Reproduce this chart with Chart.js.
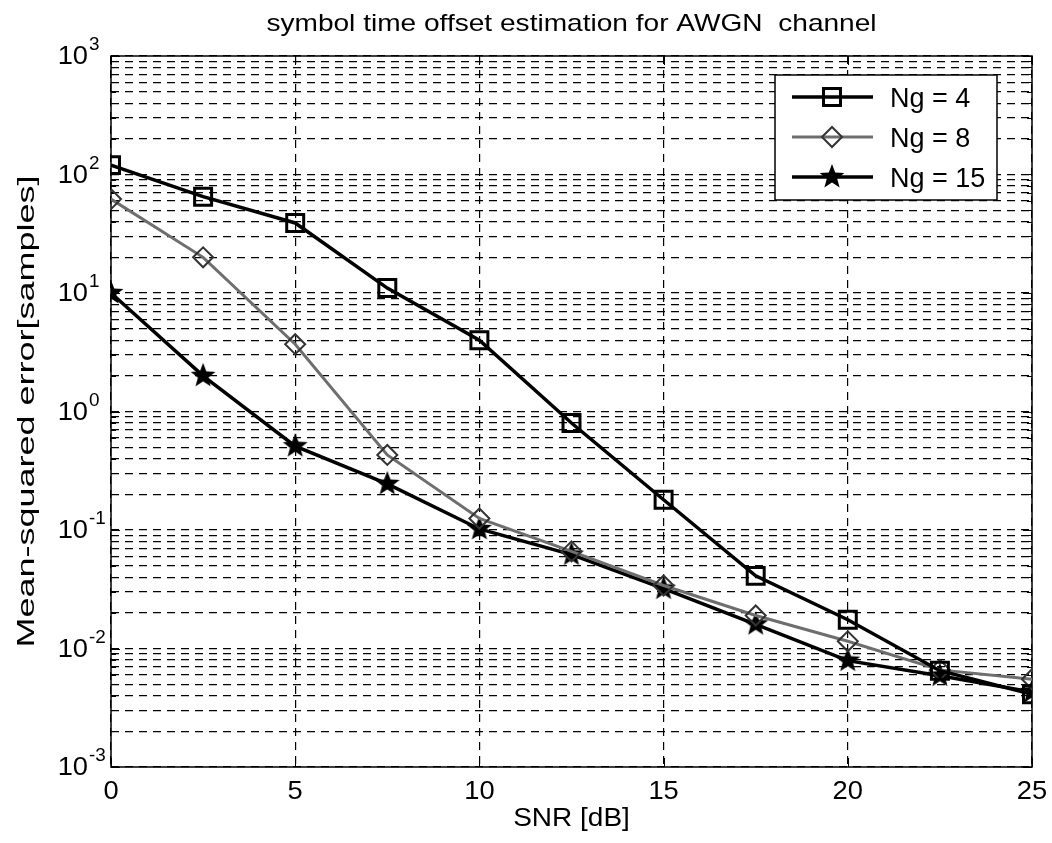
<!DOCTYPE html>
<html>
<head>
<meta charset="utf-8">
<script src="https://cdn.jsdelivr.net/npm/chart.js@4.4.1/dist/chart.umd.min.js"></script>
<style>
  body { margin: 0; background: #fff; }
  #wrap { width: 1052px; height: 843px; }
</style>
</head>
<body>
<div id="wrap"><canvas id="myChart" width="1052" height="843"></canvas></div>
<script>
// data
var snrValues = [0, 2.5, 5, 7.5, 10, 12.5, 15, 17.5, 20, 22.5, 25];
var mseNg4 = [120, 65, 39, 11, 4.0, 0.8, 0.18, 0.041, 0.0175, 0.0065, 0.0041];
var mseNg8 = [62, 20, 3.7, 0.43, 0.125, 0.066, 0.034, 0.019, 0.0115, 0.0066, 0.0055];
var mseNg15 = [10, 2.0, 0.51, 0.245, 0.102, 0.062, 0.032, 0.016, 0.0079, 0.0059, 0.0043];
var seriesNames = ["Ng = 4", "Ng = 8", "Ng = 15"];

// axis ticks
var xTicks = [0, 5, 10, 15, 20, 25];
var yExponents = [-3, -2, -1, 0, 1, 2, 3];
var yMinorSteps = [2, 3, 4, 5, 6, 7, 8, 9];

var FONT = "'Liberation Sans', Arial, sans-serif";

// filled 5 point star as point image
function makeStar(r) {
  var c = document.createElement("canvas");
  c.width = c.height = r * 2 + 4;
  var g = c.getContext("2d");
  var cx = r + 2, cy = r + 2;
  g.beginPath();
  for (var i = 0; i < 10; i++) {
    var rr = i % 2 == 0 ? r : r * 0.42;
    var a = -Math.PI / 2 + i * Math.PI / 5;
    var px = cx + rr * Math.cos(a), py = cy + rr * Math.sin(a);
    if (i == 0) g.moveTo(px, py); else g.lineTo(px, py);
  }
  g.closePath();
  g.fillStyle = "#000";
  g.fill();
  return c;
}
var starImg = makeStar(13);

var yGrid = [];
var yMajor = [];
yExponents.forEach(function (e) {
  yGrid.push(Math.pow(10, e));
  yMajor.push(Math.pow(10, e));
  if (e < 3) yMinorSteps.forEach(function (m) { yGrid.push(m * Math.pow(10, e)); });
});

function txt(ctx, s, x, y, font, align, sx) {
  ctx.save();
  ctx.font = font;
  ctx.textAlign = align || "left";
  ctx.textBaseline = "alphabetic";
  ctx.translate(x, y);
  ctx.scale(sx || 1, 1);
  ctx.fillText(s, 0, 0);
  ctx.restore();
}

var matlabLook = {
  id: "matlabLook",
  beforeDatasetsDraw: function (chart) {
    var ctx = chart.ctx, a = chart.chartArea;
    var xs = chart.scales.x, ys = chart.scales.y;
    ctx.save();
    ctx.strokeStyle = "#000";
    ctx.lineWidth = 1;
    // small inside ticks
    yGrid.forEach(function (v) {
      var py = Math.round(ys.getPixelForValue(v)) + 0.5;
      var len = yMajor.indexOf(v) >= 0 ? 9 : 5;
      ctx.beginPath();
      ctx.moveTo(a.left, py); ctx.lineTo(a.left + len, py);
      ctx.moveTo(a.right, py); ctx.lineTo(a.right - len, py);
      ctx.stroke();
    });
    xTicks.forEach(function (v) {
      var px = Math.round(xs.getPixelForValue(v)) + 0.5;
      ctx.beginPath();
      ctx.moveTo(px, a.bottom); ctx.lineTo(px, a.bottom - 9);
      ctx.moveTo(px, a.top); ctx.lineTo(px, a.top + 9);
      ctx.stroke();
    });
    ctx.lineWidth = 1.5;
    ctx.strokeRect(a.left, a.top, a.right - a.left, a.bottom - a.top);
    ctx.restore();
  },
  afterDraw: function (chart) {
    var ctx = chart.ctx, a = chart.chartArea;
    var xs = chart.scales.x, ys = chart.scales.y;
    ctx.save();
    ctx.fillStyle = "#000";
    // title and axis titles
    txt(ctx, "symbol time offset estimation for AWGN  channel", (a.left + a.right) / 2, 31, "24px " + FONT, "center", 1.17);
    txt(ctx, "SNR [dB]", (a.left + a.right) / 2, 826, "25px " + FONT, "center", 1.12);
    ctx.save();
    ctx.translate(34, (a.top + a.bottom) / 2);
    ctx.rotate(-Math.PI / 2);
    txt(ctx, "Mean-squared error[samples]", 0, 0, "24px " + FONT, "center", 1.5);
    ctx.restore();
    // tick labels
    xTicks.forEach(function (v) {
      txt(ctx, String(v), xs.getPixelForValue(v), 799, "26px " + FONT, "center", 1.05);
    });
    yExponents.forEach(function (e) {
      var py = ys.getPixelForValue(Math.pow(10, e));
      txt(ctx, "10", 88, py + 8, "26px " + FONT, "right", 1.05);
      txt(ctx, String(e), 89, py - 6, "18px " + FONT, "left", 1.05);
    });
    // legend box
    var lx = 775, ly = 75, lw = 222, lh = 125;
    ctx.fillStyle = "#fff";
    ctx.fillRect(lx, ly, lw, lh);
    ctx.strokeStyle = "#000";
    ctx.lineWidth = 1.5;
    ctx.strokeRect(lx, ly, lw, lh);
    chart.data.datasets.forEach(function (ds, i) {
      var ry = 97 + i * 40;
      ctx.strokeStyle = ds.borderColor;
      ctx.lineWidth = ds.borderWidth;
      ctx.beginPath();
      ctx.moveTo(792, ry); ctx.lineTo(873, ry);
      ctx.stroke();
      ctx.strokeStyle = ds.pointBorderColor;
      ctx.fillStyle = ds.pointBackgroundColor;
      ctx.lineWidth = ds.pointBorderWidth;
      Chart.helpers.drawPoint(ctx, { pointStyle: ds.pointStyle, radius: ds.pointRadius, borderWidth: ds.pointBorderWidth, rotation: 0 }, 832, ry);
      ctx.fillStyle = "#000";
      txt(ctx, ds.label, 890, ry + 10, "27px " + FONT, "left", 1);
    });
    ctx.restore();
  }
};

function pts(ys) {
  return snrValues.map(function (x, i) { return { x: x, y: ys[i] }; });
}

new Chart("myChart", {
  type: "line",
  data: {
    datasets: [{
      label: seriesNames[0],
      data: pts(mseNg4),
      borderColor: "#000",
      borderWidth: 3.5,
      pointStyle: "rect",
      pointRadius: 12,
      pointBorderWidth: 3,
      pointBorderColor: "#000",
      pointBackgroundColor: "rgba(255,255,255,0)"
    }, {
      label: seriesNames[1],
      data: pts(mseNg8),
      borderColor: "#6e6e6e",
      borderWidth: 3,
      pointStyle: "rectRot",
      pointRadius: 10,
      pointBorderWidth: 2,
      pointBorderColor: "#333",
      pointBackgroundColor: "rgba(255,255,255,0)"
    }, {
      label: seriesNames[2],
      data: pts(mseNg15),
      borderColor: "#000",
      borderWidth: 3.5,
      pointStyle: starImg,
      pointRadius: 13,
      pointBorderWidth: 1,
      pointBorderColor: "#000",
      pointBackgroundColor: "#000"
    }]
  },
  options: {
    responsive: false,
    animation: false,
    layout: { padding: { left: 111, top: 56, right: 20, bottom: 76 } },
    plugins: { legend: { display: false }, title: { display: false }, tooltip: { enabled: false } },
    scales: {
      x: {
        type: "linear", min: 0, max: 25,
        ticks: { display: false, stepSize: 5 },
        border: { display: false, dash: [8, 6] },
        grid: { color: "#000", lineWidth: 1.2, drawTicks: false, tickLength: 0 },
        afterBuildTicks: function (axis) { axis.ticks = xTicks.map(function (v) { return { value: v }; }); },
        afterFit: function (axis) { axis.height = 0; }
      },
      y: {
        type: "logarithmic", min: 1e-3, max: 1e3,
        ticks: { display: false },
        border: { display: false, dash: [8, 6] },
        grid: { color: "#000", lineWidth: 1.2, drawTicks: false, tickLength: 0 },
        afterBuildTicks: function (axis) { axis.ticks = yGrid.map(function (v) { return { value: v }; }); },
        afterFit: function (axis) { axis.width = 0; }
      }
    }
  },
  plugins: [matlabLook]
});
</script>
</body>
</html>
